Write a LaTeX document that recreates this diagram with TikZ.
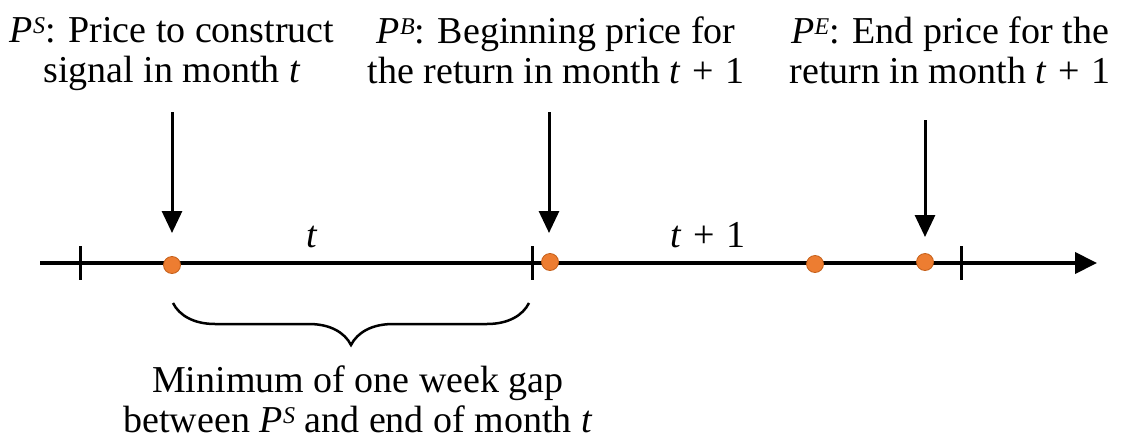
\documentclass[tikz,border=0pt]{standalone}
\usepackage{fontspec}
\setmainfont{Liberation Serif}
\usetikzlibrary{arrows.meta,decorations.pathreplacing}
\newcommand{\pv}[1]{\textit{P}\kern0.01em\raisebox{0.55ex}{\fontsize{24}{24}\selectfont\textit{#1}}}
\newcommand{\tpo}{\textit{t}\hspace{2pt} + \hspace{2pt}1}
\definecolor{dotfill}{HTML}{ED7D31}
\definecolor{dotline}{HTML}{C5601A}
\tikzset{
  lbl/.style={align=center, inner sep=0pt, anchor=north, font=\fontsize{38}{40}\selectfont},
  dot/.style={circle, fill=dotfill, draw=dotline, line width=0.8pt, minimum size=17pt, inner sep=0pt},
  pointer/.style={line width=3pt, -{Triangle[length=22pt,width=20pt]}},
  tick/.style={line width=3pt},
  axis/.style={line width=4pt, -{Triangle[length=22pt,width=21pt]}},
  month/.style={font=\fontsize{38}{40}\selectfont, anchor=base, inner sep=0pt},
}
\begin{document}
\begin{tikzpicture}[x=1pt,y=-1pt]
\useasboundingbox (0,0) rectangle (1123,447);
% axis
\coordinate (axL) at (40,263);
\coordinate (axR) at (1097,263);
\draw[axis] (axL) -- (axR);
% ticks
\foreach \n/\x in {t0/80,t1/532,t2/961}{
  \coordinate (\n a) at (\x,246);
  \coordinate (\n b) at (\x,280);
  \draw[tick] (\n a) -- (\n b);
}
% dots
\node[dot] (dS) at (172,265) {};
\node[dot] (dB) at (550,262) {};
\node[dot] (dM) at (815,264) {};
\node[dot] (dE) at (925,262) {};
% month labels
\node[month] (mt) at (312,247) {\textit{t}};
\node[month] (mt1) at (708,247) {\tpo};
% top labels
\node[lbl] (lS) at (172,17) {\pv{S}: Price to construct\\signal in month \textit{t}};
\node[lbl] (lB) at (556,17) {\pv{B}: Beginning price for\\the return in month \tpo};
\node[lbl] (lE) at (950,17) {\pv{E}: End price for the\\return in month \tpo};
% pointers
\coordinate (aS1) at (172,112); \coordinate (aS2) at (172,233);
\coordinate (aB1) at (549,112); \coordinate (aB2) at (549,233);
\coordinate (aE1) at (925,120); \coordinate (aE2) at (925,237);
\draw[pointer] (aS1) -- (aS2);
\draw[pointer] (aB1) -- (aB2);
\draw[pointer] (aE1) -- (aE2);
% brace
\coordinate (brL) at (173,303);
\coordinate (brR) at (529,303);
\draw[line width=2.5pt, decorate, decoration={brace, amplitude=42pt, aspect=0.5}] (brR) -- (brL);
\node[lbl] (gap) at (358,366) {Minimum of one week gap\\between \pv{S} and end of month \textit{t}};
\end{tikzpicture}
\end{document}
